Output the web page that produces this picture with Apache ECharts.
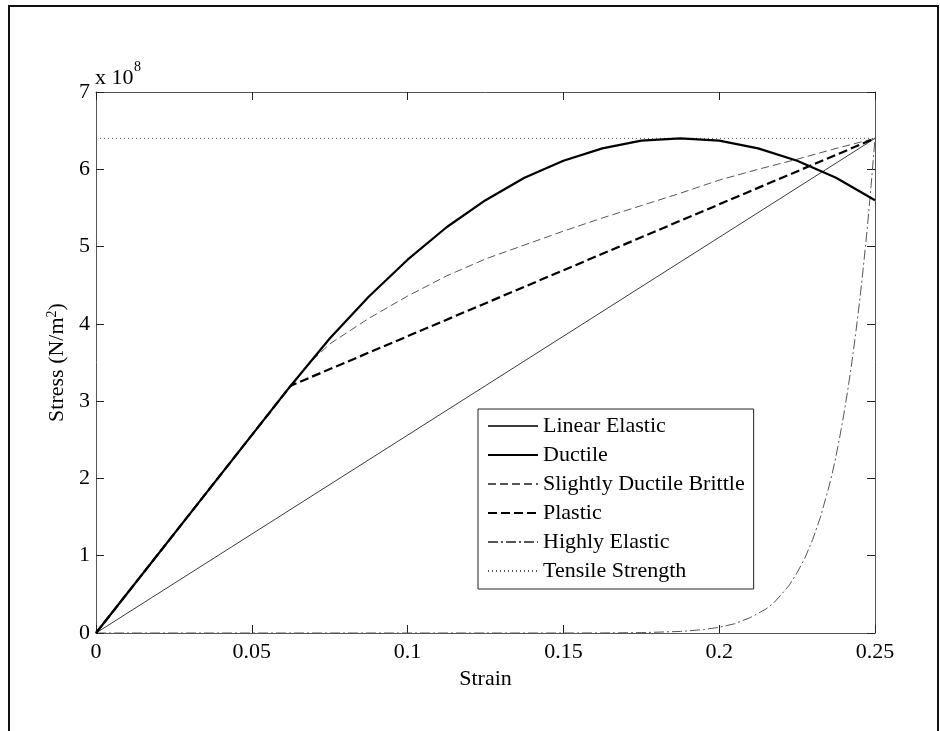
<!DOCTYPE html>
<html>
<head>
<meta charset="utf-8">
<title>Stress-strain curves</title>
<script src="https://cdn.jsdelivr.net/npm/echarts@6/dist/echarts.min.js"></script>
<style>
  html, body { margin: 0; padding: 0; background: #fff; }
  #chart { width: 940px; height: 731px; }
</style>
</head>
<body>
<div id="chart"></div>
<script>
// Strain (dimensionless) and stress in units of 1e8 N/m^2
const strainTicks = [0, 0.05, 0.1, 0.15, 0.2, 0.25];
const stressTicks = [0, 1, 2, 3, 4, 5, 6, 7];

const linearStrain = [0, 0.25];
const linearStress = [0, 6.4];

const ductileStrain = [0, 0.025, 0.05, 0.0625, 0.075, 0.0875, 0.1, 0.1125, 0.125, 0.1375, 0.15,
  0.1625, 0.175, 0.1875, 0.2, 0.2125, 0.225, 0.2375, 0.25];
const ductileStress = [0, 1.28, 2.56, 3.2, 3.81, 4.35, 4.83, 5.25, 5.6, 5.89, 6.11,
  6.27, 6.37, 6.4, 6.37, 6.27, 6.11, 5.89, 5.6];

const brittleStrain = [0, 0.025, 0.05, 0.0625, 0.07, 0.075, 0.0875, 0.1, 0.1125, 0.125, 0.1375, 0.15,
  0.1625, 0.175, 0.1875, 0.2, 0.2125, 0.225, 0.2375, 0.25];
const brittleStress = [0, 1.28, 2.56, 3.2, 3.55, 3.74, 4.07, 4.36, 4.62, 4.84, 5.02, 5.2,
  5.37, 5.53, 5.69, 5.86, 6.0, 6.13, 6.27, 6.4];

const plasticStrain = [0, 0.0625, 0.25];
const plasticStress = [0, 3.2, 6.4];

const elasticStrain = [0, 0.05, 0.1, 0.125, 0.15, 0.1625, 0.175, 0.1875, 0.195, 0.2, 0.205, 0.21,
  0.215, 0.2175, 0.22, 0.2225, 0.225, 0.2275, 0.23, 0.2325, 0.235, 0.23625, 0.2375, 0.23875,
  0.24, 0.24125, 0.2425, 0.24375, 0.245, 0.24625, 0.2475, 0.24875, 0.25];
const elasticStress = [0, 0, 0, 0, 0, 0.001, 0.005, 0.02, 0.044, 0.074, 0.12, 0.2,
  0.31, 0.39, 0.5, 0.62, 0.78, 0.97, 1.21, 1.5, 1.86, 2.06, 2.29, 2.55,
  2.83, 3.14, 3.48, 3.86, 4.27, 4.73, 5.23, 5.79, 6.4];

const tensileStrain = [0, 0.25];
const tensileStress = [6.4, 6.4];

const seriesNames = ['Linear Elastic', 'Ductile', 'Slightly Ductile Brittle', 'Plastic',
  'Highly Elastic', 'Tensile Strength'];

const pairs = (xs, ys) => xs.map((x, i) => [x, ys[i]]);

const FONT = "'Liberation Serif', 'Times New Roman', serif";

const chart = echarts.init(document.getElementById('chart'), null, { renderer: 'canvas' });

const axisLineStyle = { color: '#555', width: 1 };
const tickStyle = { color: '#222', width: 1 };

function lineSeries(name, data, style, z) {
  return {
    name: name,
    type: 'line',
    data: data,
    symbol: 'none',
    z: z,
    itemStyle: { color: style.color },
    lineStyle: style,
    emphasis: { disabled: true }
  };
}

chart.setOption({
  animation: false,
  backgroundColor: '#fff',
  grid: { left: 96, right: 65, top: 92, bottom: 98 },
  xAxis: [
    {
      type: 'value', min: strainTicks[0], max: strainTicks[strainTicks.length - 1], interval: 0.05,
      name: 'Strain', nameLocation: 'middle', nameGap: 34,
      nameTextStyle: { fontFamily: FONT, fontSize: 22, color: '#000' },
      axisLine: { show: true, lineStyle: axisLineStyle },
      axisTick: { show: true, inside: true, length: 8, lineStyle: tickStyle },
      axisLabel: { fontFamily: FONT, fontSize: 22, color: '#000', margin: 8 },
      splitLine: { show: false }
    },
    {
      type: 'value', position: 'top', min: 0, max: 0.25, interval: 0.05,
      axisLine: { show: true, onZero: false, lineStyle: axisLineStyle },
      axisTick: { show: true, inside: true, length: 8, lineStyle: tickStyle },
      axisLabel: { show: false },
      splitLine: { show: false }
    }
  ],
  yAxis: [
    {
      type: 'value', min: stressTicks[0], max: stressTicks[stressTicks.length - 1], interval: 1,
      name: 'Stress (N/m{sup|2})', nameLocation: 'middle', nameGap: 26,
      nameTextStyle: {
        fontFamily: FONT, fontSize: 22, color: '#000',
        rich: { sup: { fontFamily: FONT, fontSize: 14, color: '#000', verticalAlign: 'top', padding: [0, 0, 10, 0] } }
      },
      axisLine: { show: true, lineStyle: axisLineStyle },
      axisTick: { show: true, inside: true, length: 8, lineStyle: tickStyle },
      axisLabel: { fontFamily: FONT, fontSize: 22, color: '#000', margin: 6 },
      splitLine: { show: false }
    },
    {
      type: 'value', position: 'right', min: 0, max: 7, interval: 1,
      axisLine: { show: true, onZero: false, lineStyle: axisLineStyle },
      axisTick: { show: true, inside: true, length: 8, lineStyle: tickStyle },
      axisLabel: { show: false },
      splitLine: { show: false }
    }
  ],
  legend: {
    orient: 'vertical',
    left: 478, top: 409,
    padding: [6, 9, 7, 9],
    itemGap: 7,
    itemWidth: 50,
    itemHeight: 14,
    backgroundColor: '#fff',
    borderColor: '#222',
    borderWidth: 1,
    borderRadius: 0,
    selectedMode: false,
    itemStyle: { opacity: 0 },
    textStyle: { fontFamily: FONT, fontSize: 22, color: '#000' },
    data: seriesNames
  },
  graphic: [
    {
      type: 'polyline', silent: true,
      shape: { points: [[9, 731], [9, 6], [938, 6], [938, 731]] },
      style: { stroke: '#111', lineWidth: 2, fill: null }
    },
    {
      type: 'text', silent: true,
      style: { x: 95, y: 78, text: 'x 10', font: '22px ' + FONT, fill: '#000', verticalAlign: 'middle' }
    },
    {
      type: 'text', silent: true,
      style: { x: 134, y: 67, text: '8', font: '14px ' + FONT, fill: '#000', verticalAlign: 'middle' }
    }
  ],
  series: [
    lineSeries(seriesNames[0], pairs(linearStrain, linearStress),
      { color: '#3a3a3a', width: 1 }, 2),
    lineSeries(seriesNames[1], pairs(ductileStrain, ductileStress),
      { color: '#000', width: 2.2 }, 5),
    lineSeries(seriesNames[2], pairs(brittleStrain, brittleStress),
      { color: '#555', width: 1, type: [8, 4] }, 3),
    lineSeries(seriesNames[3], pairs(plasticStrain, plasticStress),
      { color: '#000', width: 2.2, type: [9, 4] }, 4),
    lineSeries(seriesNames[4], pairs(elasticStrain, elasticStress),
      { color: '#555', width: 1, type: [10, 3, 2, 3] }, 2),
    lineSeries(seriesNames[5], pairs(tensileStrain, tensileStress),
      { color: '#555', width: 1, type: [1, 3] }, 2)
  ]
});
</script>
</body>
</html>
